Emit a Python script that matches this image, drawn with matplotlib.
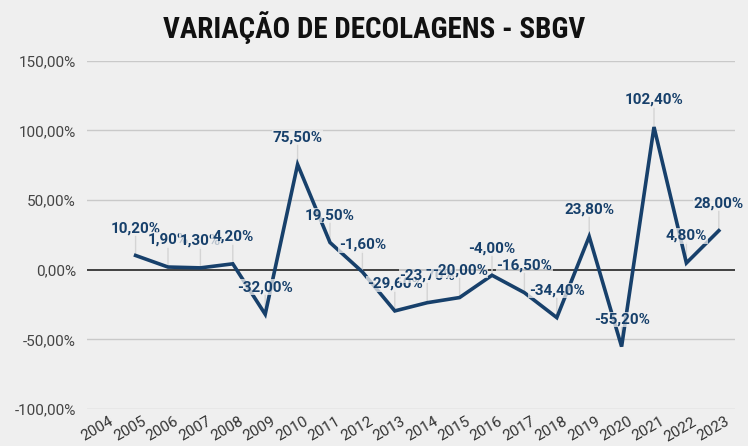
import matplotlib
matplotlib.use("Agg")
import matplotlib.pyplot as plt
import matplotlib.transforms as mtransforms
from matplotlib.ticker import FuncFormatter

years = [str(y) for y in range(2004, 2024)]
value_years = [str(y) for y in range(2005, 2024)]
values = [10.20, 1.90, 1.30, 4.20, -32.00, 75.50, 19.50, -1.60, -29.60, -23.70,
          -20.00, -4.00, -16.50, -34.40, 23.80, -55.20, 102.40, 4.80, 28.00]
yticks = [-100, -50, 0, 50, 100, 150]

BG = "#efefef"
NAVY = "#17406b"

plt.rcParams['font.family'] = ['Roboto', 'DejaVu Sans']

fig = plt.figure(figsize=(7.48, 4.46), dpi=100, facecolor=BG)
ax = fig.add_axes([87/748, 1-409/446, 648/748, (409-60.7)/446])
ax.set_facecolor(BG)

xpos = [years.index(y) for y in value_years]

ax.set_xlim(-0.5, len(years) - 0.5)
ax.set_ylim(yticks[0], yticks[-1])

for t in yticks:
    if t == 0:
        ax.axhline(t, color="#333333", lw=1.3, zorder=2)
    else:
        ax.axhline(t, color="#c9c9c9", lw=1.0, zorder=1)

ax.plot(xpos, values, color=NAVY, lw=2.6, zorder=4, solid_joinstyle='miter')

def fmt(v):
    return f"{v:.2f}".replace(".", ",") + "%"

for x, v in zip(xpos, values):
    # leader line (behind the series line)
    ax.annotate('', xy=(x, v), xytext=(0, 20), textcoords='offset pixels',
                arrowprops=dict(arrowstyle='-', color='#d4d4d4', lw=1.0, shrinkA=0, shrinkB=0),
                zorder=3)
for x, v in zip(xpos, values):
    ax.annotate(fmt(v), xy=(x, v), xytext=(0, 27), textcoords='offset pixels',
                ha='center', va='center', fontsize=11, fontweight='bold', color=NAVY,
                bbox=dict(boxstyle='square,pad=0.05', facecolor=BG, edgecolor='none', alpha=0.75),
                zorder=5)

ax.set_yticks(yticks)
ax.yaxis.set_major_formatter(FuncFormatter(lambda v, p: f"{v:.2f}".replace(".", ",") + "%"))
ax.tick_params(axis='y', length=0, pad=8, labelsize=11, labelcolor="#444444")
ax.set_xticks(range(len(years)))
ax.set_xticklabels(years)
ax.tick_params(axis='x', length=0, pad=4, labelsize=11, labelcolor="#333333")
offset = mtransforms.ScaledTranslation(6/100, 0, fig.dpi_scale_trans)
for lbl in ax.get_xticklabels():
    lbl.set_rotation(30)
    lbl.set_ha('right')
    lbl.set_rotation_mode('anchor')
    lbl.set_transform(lbl.get_transform() + offset)

for s in ax.spines.values():
    s.set_visible(False)

fig.text(0.5, 1 - 28/446, "VARIAÇÃO DE DECOLAGENS - SBGV", ha='center', va='center',
         fontsize=21, fontweight='bold', color='#111111',
         family=['Roboto Condensed', 'Liberation Sans Narrow', 'Roboto'])

fig.savefig("out.png", dpi=100, facecolor=BG)
